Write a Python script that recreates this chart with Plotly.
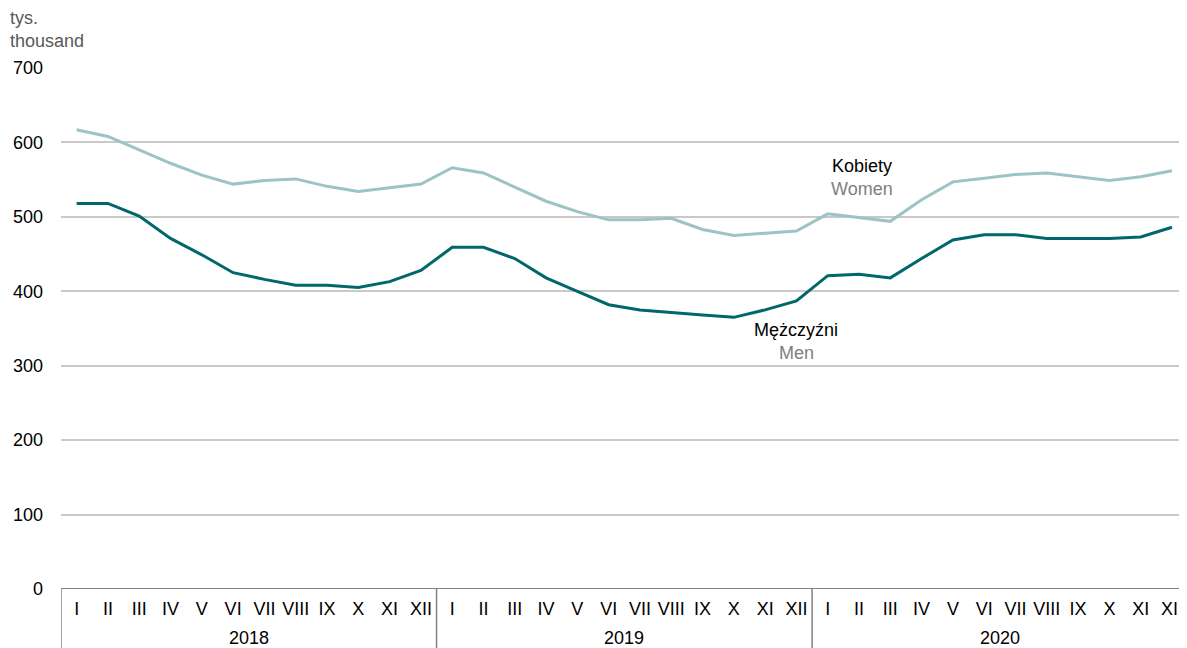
import plotly.graph_objects as go

months = ["I", "II", "III", "IV", "V", "VI", "VII", "VIII", "IX", "X", "XI", "XII"]
years = ["2018", "2019", "2020"]

women = [617, 608, 590, 572, 556, 544, 549, 551, 541, 534, 539, 544,
         566, 559, 540, 521, 507, 496, 496, 498, 483, 475, 478, 481,
         504, 499, 494, 523, 547, 552, 557, 559, 554, 549, 554, 562]
men = [518, 518, 501, 471, 449, 425, 416, 408, 408, 405, 413, 428,
       459, 459, 444, 418, 400, 382, 375, 371, 368, 365, 375, 387,
       421, 423, 418, 444, 469, 476, 476, 471, 471, 471, 473, 486]

y_ticks = [0, 100, 200, 300, 400, 500, 600, 700]

FONT = "Arial, Liberation Sans, sans-serif"
x = list(range(len(women)))
tick_text = months * len(years)

# page body has an 8px margin: figure sized so plot lands where the reference has it
W, H = 1179, 640
ML, MT, MB = 53, 60, 59
PH = H - MT - MB

fig = go.Figure()
fig.add_trace(go.Scatter(x=x, y=women, mode="lines", name="Kobiety",
                         line=dict(color="#9cc4c5", width=3), showlegend=False))
fig.add_trace(go.Scatter(x=x, y=men, mode="lines", name="Mężczyźni",
                         line=dict(color="#00676b", width=3), showlegend=False))

fig.update_layout(
    width=W, height=H,
    margin=dict(l=ML, r=0, t=MT, b=MB, autoexpand=False),
    paper_bgcolor="white", plot_bgcolor="white",
    font=dict(family=FONT, size=18, color="#000000"),
    xaxis=dict(range=[-0.5, 35.48], tickvals=x, ticktext=tick_text,
               showgrid=False, zeroline=False, showline=False, ticks="",
               tickfont=dict(size=18, color="#000000"), ticklabelstandoff=7,
               ticklabeloverflow="allow", automargin=False, fixedrange=True),
    yaxis=dict(range=[0, 700], tickvals=y_ticks, showgrid=True,
               gridcolor="#c9c9c9", gridwidth=1.5, zeroline=False,
               showline=False, ticks="", ticklabelstandoff=17,
               tickfont=dict(size=18, color="#000000"), automargin=False,
               fixedrange=True),
)

# baseline
fig.add_shape(type="line", xref="paper", yref="y", x0=0, x1=1, y0=0, y1=0,
              line=dict(color="#808080", width=2))
# year separators
for i in range(len(years) + 1):
    xv = -0.5 + 12 * i
    fig.add_shape(type="line", xref="x", yref="paper", x0=xv, x1=xv,
                  y0=0, y1=-MB / PH, line=dict(color="#808080", width=1.5))
# year labels
for i, yr in enumerate(years):
    fig.add_annotation(x=12 * i + 5.5, xref="x", y=-49 / PH, yref="paper",
                       text=yr, showarrow=False, yanchor="middle",
                       font=dict(size=18, color="#000000"))

# unit labels
fig.add_annotation(x=-53 / (W - ML), xref="paper", y=1 + 50 / PH, yref="paper",
                   text="tys.", showarrow=False, xanchor="left", yanchor="middle",
                   font=dict(size=18, color="#595959"))
fig.add_annotation(x=-53 / (W - ML), xref="paper", y=1 + 27 / PH, yref="paper",
                   text="thousand", showarrow=False, xanchor="left", yanchor="middle",
                   font=dict(size=18, color="#595959"))

# series labels
fig.add_annotation(x=25.1, xref="x", y=(589 - 166) / 521 * 700, yref="y",
                   text="Kobiety", showarrow=False, font=dict(size=18, color="#000000"))
fig.add_annotation(x=25.1, xref="x", y=(589 - 189) / 521 * 700, yref="y",
                   text="Women", showarrow=False, font=dict(size=18, color="#7f7f7f"))
fig.add_annotation(x=23.0, xref="x", y=(589 - 330) / 521 * 700, yref="y",
                   text="Mężczyźni", showarrow=False, font=dict(size=18, color="#000000"))
fig.add_annotation(x=23.0, xref="x", y=(589 - 353) / 521 * 700, yref="y",
                   text="Men", showarrow=False, font=dict(size=18, color="#7f7f7f"))

fig.write_html("out.html")
